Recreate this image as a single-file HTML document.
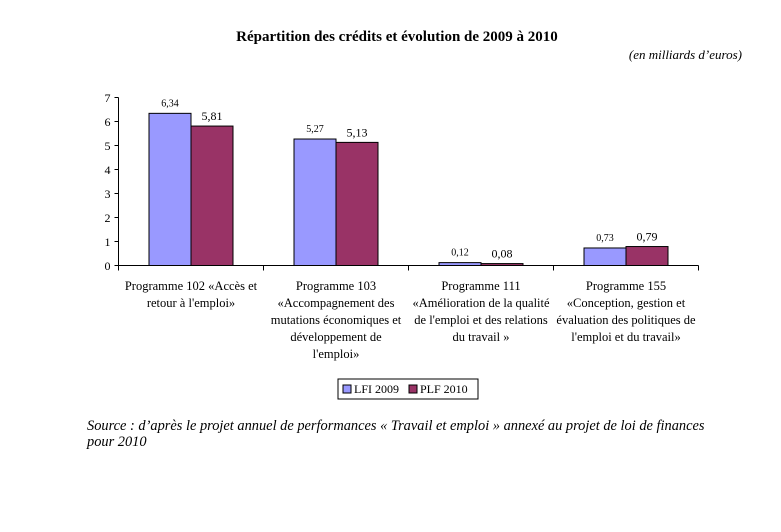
<!DOCTYPE html>
<html><head><meta charset="utf-8"><style>
body{margin:0;background:#fff;width:781px;height:527px;overflow:hidden;font-family:"Liberation Serif",serif;}
</style></head><body>
<svg width="781" height="527" xmlns="http://www.w3.org/2000/svg" font-family="Liberation Serif, serif">
<text x="397" y="41" font-size="15" font-weight="bold" text-anchor="middle">Répartition des crédits et évolution de 2009 à 2010</text>
<text x="742" y="59" font-size="13" font-style="italic" text-anchor="end">(en milliards d’euros)</text>
<g id="plot"></g>
<g>
<rect x="338" y="379" width="140" height="20" fill="#fff" stroke="#000" stroke-width="1"/>
<rect x="343" y="385" width="8" height="8" fill="#9999ff" stroke="#000"/>
<text x="354" y="393" font-size="12">LFI 2009</text>
<rect x="409" y="385" width="8" height="8" fill="#993366" stroke="#000"/>
<text x="420" y="393" font-size="12">PLF 2010</text>
</g>
<text x="87" y="430" font-size="14.4" font-style="italic">Source : d’après le projet annuel de performances « Travail et emploi » annexé au projet de loi de finances</text>
<text x="87" y="446" font-size="14.4" font-style="italic">pour 2010</text>
</svg>
<script>
const categories=[["Programme 102 «Accès et","retour à l'emploi»"],["Programme 103","«Accompagnement des","mutations économiques et","développement de","l'emploi»"],["Programme 111","«Amélioration de la qualité","de l'emploi et des relations","du travail »"],["Programme 155","«Conception, gestion et","évaluation des politiques de","l'emploi et du travail»"]];
const lfi2009=[6.34,5.27,0.12,0.73];
const plf2010=[5.81,5.13,0.08,0.79];
const yTicks=[0,1,2,3,4,5,6,7];
const NS="http://www.w3.org/2000/svg";
const g=document.getElementById('plot');
const x0=118.5,y0=265.5,catW=145,unit=24,bw=42;
const y=v=>y0-v*unit;
const cx=i=>x0+catW*(i+0.5);
function mk(t,a){const e=document.createElementNS(NS,t);for(const k in a)e.setAttribute(k,a[k]);g.appendChild(e);return e;}
let e=mk('line',{x1:x0,y1:y(7),x2:x0,y2:y0,stroke:'#000'});


e=mk('line',{x1:x0,y1:y0,x2:x0+catW*4,y2:y0,stroke:'#000'});


yTicks.forEach(t=>{
 mk('line',{x1:x0-4,y1:y(t),x2:x0,y2:y(t),stroke:'#000'});
 e=mk('text',{x:x0-8,y:y(t)+4.5,'font-size':12,'text-anchor':'end'});e.textContent=t;
 
 
});
for(let i=0;i<=4;i++)mk('line',{x1:x0+catW*i,y1:y0,x2:x0+catW*i,y2:y0+5,stroke:'#000'});
categories.forEach((lines,i)=>{
 const c=cx(i);
 e=mk('rect',{x:c-bw,y:y(lfi2009[i]),width:bw,height:lfi2009[i]*unit,fill:'#9999ff',stroke:'#000'});
 
 
 e=mk('rect',{x:c,y:y(plf2010[i]),width:bw,height:plf2010[i]*unit,fill:'#993366',stroke:'#000'});
 
 
 e=mk('text',{x:c-bw/2,y:y(lfi2009[i])-7,'font-size':10,'text-anchor':'middle'});e.textContent=lfi2009[i].toFixed(2).replace('.',',');
 
 
 e=mk('text',{x:c+bw/2,y:y(plf2010[i])-6,'font-size':12,'text-anchor':'middle'});e.textContent=plf2010[i].toFixed(2).replace('.',',');
 
 
 lines.forEach((l,j)=>{
  e=mk('text',{x:c,y:290+j*17,'font-size':12.5,'text-anchor':'middle'});e.textContent=l;
  
  
 });
});
</script>
</body></html>
